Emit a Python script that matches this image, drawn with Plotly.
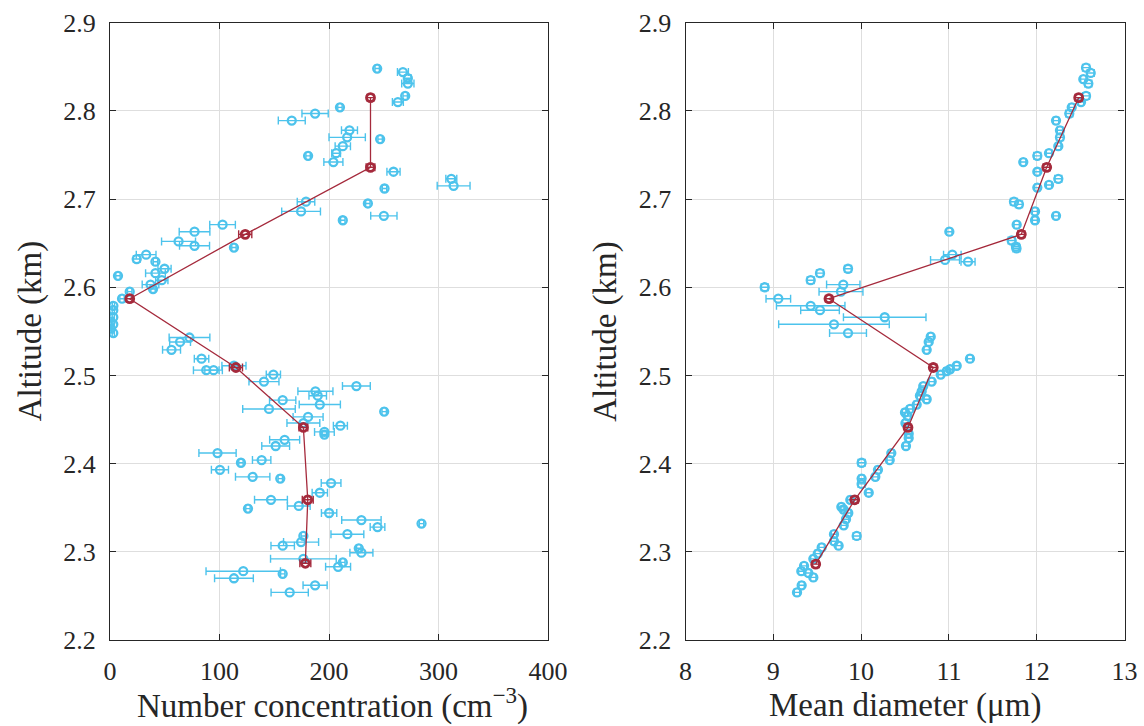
import plotly.graph_objects as go

# ---------------- Left panel: number concentration ----------------
nc_alt = [2.848, 2.844, 2.837, 2.831, 2.817, 2.810, 2.804, 2.797, 2.789, 2.778,
          2.770, 2.768, 2.760, 2.752, 2.749, 2.742, 2.731, 2.723, 2.715, 2.712,
          2.697, 2.695, 2.686, 2.681, 2.676, 2.671, 2.663, 2.652, 2.647, 2.645,
          2.637, 2.632, 2.629, 2.621, 2.616, 2.613, 2.608, 2.603, 2.598, 2.595,
          2.587, 2.579, 2.574, 2.566, 2.561, 2.558, 2.553, 2.548, 2.543, 2.538,
          2.529, 2.519, 2.506, 2.506, 2.511, 2.501, 2.493, 2.488, 2.482, 2.477,
          2.472, 2.467, 2.462, 2.459, 2.453, 2.446, 2.443, 2.436, 2.433, 2.427,
          2.420, 2.412, 2.404, 2.401, 2.393, 2.385, 2.383, 2.378, 2.367, 2.359,
          2.352, 2.349, 2.344, 2.336, 2.332, 2.328, 2.320, 2.318, 2.311, 2.307,
          2.304, 2.299, 2.292, 2.288, 2.283, 2.278, 2.275, 2.270, 2.262, 2.254]
nc_val = [244, 267.5, 272, 272, 269.6, 262.9, 210, 187.3, 166, 218.7,
          216.6, 246.7, 212.6, 206.5, 180.9, 204, 258.9, 311.7, 313.8, 250.7,
          179, 235.5, 174.5, 250.1, 212.6, 102.8, 77.2, 62.6, 77.2, 113.2,
          33, 24.4, 41.5, 49.8, 41.5, 7.3, 47.3, 37, 39.3, 18,
          11, 3.1, 3, 3, 0.6, 3, 0.6, 3, 72.6, 64,
          56.2, 83.6, 87.9, 94.6, 113.2, 149.2, 140.6, 225, 187.6, 189.7,
          157.7, 191.6, 145.2, 250.4, 180.9, 176.6, 210.4, 195.8, 195.8, 159.5,
          151.3, 98.2, 138.5, 119.6, 100.4, 130.3, 155.5, 201.9, 191.6, 147,
          172.4, 126, 200.1, 229.6, 284.5, 244.3, 216.8, 176.6, 174.5, 157.7,
          227.2, 229.6, 176.6, 212.6, 208.3, 121.7, 157.7, 113.2, 187.3, 164.1]
nc_err = [2, 5, 3, 5.6, 2, 5, 2, 12, 12.3, 7.3,
          16.6, 2, 7, 4, 2, 8.7, 6, 5, 15, 2,
          8, 2, 17.7, 12, 2, 11.7, 14, 15.5, 13.7, 2,
          9, 3, 2, 6, 9, 2, 5.6, 7.6, 2, 2,
          2, 1, 1, 1, 1, 1, 1, 1, 18.6, 9.5,
          8.2, 6.6, 11.7, 8, 11, 6.5, 13.7, 12.7, 16, 8,
          12, 18.8, 24, 2, 13.7, 15, 6.4, 9, 2, 13.7,
          12.7, 17, 8.4, 2, 7.8, 15.7, 2, 9, 7, 15,
          10.4, 2, 7, 18, 2, 6.7, 15, 2, 16, 10.7,
          2, 10.5, 30, 2, 11.4, 34, 2, 17.7, 11, 17]

nc_mean_alt = [2.815, 2.736, 2.660, 2.587, 2.509, 2.441, 2.359, 2.287]
nc_mean_val = [237.9, 237.9, 123.5, 18, 115, 176.6, 180.6, 178.4]
nc_mean_err = [3, 4, 6, 3, 6, 4, 5, 5]

# ---------------- Right panel: mean diameter ----------------
md_alt = [2.849, 2.843, 2.836, 2.831, 2.817, 2.810, 2.804, 2.797, 2.789, 2.778,
          2.770, 2.760, 2.752, 2.749, 2.742, 2.731, 2.723, 2.716, 2.713, 2.697,
          2.694, 2.686, 2.681, 2.676, 2.671, 2.663, 2.653, 2.646, 2.644, 2.637,
          2.631, 2.629, 2.621, 2.616, 2.608, 2.603, 2.600, 2.595, 2.587, 2.579,
          2.574, 2.566, 2.558, 2.548, 2.544, 2.538, 2.529, 2.519, 2.511, 2.507,
          2.505, 2.501, 2.493, 2.488, 2.482, 2.477, 2.473, 2.467, 2.462, 2.458,
          2.454, 2.446, 2.434, 2.429, 2.420, 2.412, 2.404, 2.401, 2.393, 2.385,
          2.383, 2.377, 2.367, 2.359, 2.351, 2.348, 2.344, 2.337, 2.330, 2.320,
          2.318, 2.312, 2.307, 2.305, 2.298, 2.292, 2.284, 2.278, 2.276, 2.271,
          2.262, 2.254]
md_val = [12.562, 12.615, 12.531, 12.588, 12.562, 12.505, 12.399, 12.371, 12.220, 12.265,
          12.265, 12.246, 12.140, 12.007, 11.847, 12.007, 12.246, 12.140, 12.007, 11.741,
          11.798, 11.981, 12.220, 11.981, 11.772, 11.005, 11.715, 11.764, 11.770, 11.039,
          10.956, 11.218, 9.851, 9.532, 9.426, 9.797, 8.902, 9.771, 9.057, 9.426,
          9.532, 10.269, 9.691, 9.851, 10.793, 10.770, 10.747, 11.240, 11.089, 11.013,
          10.975, 10.907, 10.804, 10.708, 10.690, 10.670, 10.747, 10.633, 10.557, 10.500,
          10.530, 10.505, 10.542, 10.542, 10.511, 10.344, 10.326, 10.006, 10.192, 10.162,
          10.006, 10.006, 10.087, 9.877, 9.775, 9.800, 9.854, 9.828, 9.802, 9.691,
          9.950, 9.691, 9.744, 9.551, 9.506, 9.456, 9.350, 9.319, 9.399, 9.456,
          9.323, 9.270]
md_err = [0.04, 0.04, 0.03, 0.04, 0.04, 0.03, 0.03, 0.04, 0.03, 0.03,
          0.04, 0.03, 0.03, 0.04, 0.03, 0.03, 0.04, 0.03, 0.03, 0.04,
          0.04, 0.03, 0.03, 0.03, 0.03, 0.03, 0.04, 0.04, 0.04, 0.10,
          0.165, 0.08, 0.04, 0.04, 0.04, 0.19, 0.04, 0.25, 0.14, 0.39,
          0.22, 0.47, 0.63, 0.21, 0.03, 0.03, 0.03, 0.03, 0.03, 0.03,
          0.03, 0.03, 0.03, 0.03, 0.03, 0.03, 0.03, 0.03, 0.03, 0.03,
          0.03, 0.03, 0.03, 0.03, 0.03, 0.03, 0.03, 0.04, 0.03, 0.03,
          0.03, 0.04, 0.03, 0.03, 0.03, 0.03, 0.03, 0.03, 0.03, 0.03,
          0.04, 0.03, 0.03, 0.03, 0.03, 0.03, 0.03, 0.03, 0.03, 0.03,
          0.03, 0.03]

md_mean_alt = [2.815, 2.736, 2.660, 2.587, 2.509, 2.441, 2.359, 2.286]
md_mean_val = [12.478, 12.114, 11.825, 9.634, 10.822, 10.534, 9.927, 9.483]
md_mean_err = [0.04, 0.04, 0.04, 0.04, 0.04, 0.04, 0.04, 0.04]

y_ticks = [2.2, 2.3, 2.4, 2.5, 2.6, 2.7, 2.8, 2.9]
nc_ticks = [0, 100, 200, 300, 400]
md_ticks = [8, 9, 10, 11, 12, 13]

BLUE = "#4dc3ec"
RED = "#a52a3c"
FONT = "Liberation Serif"

W, H = 1144, 726
L1, R1 = 110, 548
L2, R2 = 685.5, 1124.5
TOP, BOT = 22.7, 640

fig = go.Figure()


def add_panel(xs, ys, errs, mx, my, merr, xa, ya):
    fig.add_trace(go.Scatter(
        x=xs, y=ys, mode="markers", xaxis=xa, yaxis=ya,
        marker=dict(symbol="circle-open", size=8, color=BLUE, line=dict(width=2.3, color=BLUE)),
        error_x=dict(type="data", array=errs, visible=True, color=BLUE, thickness=1.4, width=4),
        showlegend=False, hoverinfo="x+y"))
    fig.add_trace(go.Scatter(
        x=mx, y=my, mode="lines+markers", xaxis=xa, yaxis=ya,
        line=dict(color=RED, width=1.3),
        marker=dict(symbol="circle-open", size=8, color=RED, line=dict(width=2.8, color=RED)),
        error_x=dict(type="data", array=merr, visible=True, color=RED, thickness=1.4, width=4),
        showlegend=False, hoverinfo="x+y"))


add_panel(nc_val, nc_alt, nc_err, nc_mean_val, nc_mean_alt, nc_mean_err, "x", "y")
add_panel(md_val, md_alt, md_err, md_mean_val, md_mean_alt, md_mean_err, "x2", "y2")

axis_common = dict(
    showline=True, linecolor="#262626", linewidth=1.3, mirror="ticks",
    ticks="inside", ticklen=6, tickwidth=1.3, tickcolor="#262626",
    showgrid=True, gridcolor="#dedede", gridwidth=1, zeroline=False,
    automargin=False,
    tickfont=dict(family=FONT, size=26, color="#262626"),
)

fig.update_layout(
    width=W, height=H,
    margin=dict(l=0, r=0, t=0, b=0, pad=0, autoexpand=False),
    paper_bgcolor="white", plot_bgcolor="white",
    xaxis=dict(domain=[L1 / W, R1 / W], range=[0, 400], tickvals=nc_ticks,
               anchor="y", ticklabelstandoff=8, **axis_common),
    yaxis=dict(domain=[1 - BOT / H, 1 - TOP / H], range=[2.2, 2.9], tickvals=y_ticks,
               tickformat=".1f", anchor="x", ticklabelstandoff=8, **axis_common),
    xaxis2=dict(domain=[L2 / W, R2 / W], range=[8, 13], tickvals=md_ticks,
                anchor="y2", ticklabelstandoff=8, **axis_common),
    yaxis2=dict(domain=[1 - BOT / H, 1 - TOP / H], range=[2.2, 2.9], tickvals=y_ticks,
                tickformat=".1f", anchor="x2", ticklabelstandoff=8, **axis_common),
)

title_font = dict(family=FONT, size=33, color="#262626")
ann = [
    dict(text="Number concentration (cm<sup>\u22123</sup>)", x=(L1 + R1) / 2 / W + 0.003, y=1 - 703 / H),
    dict(text="Mean diameter (\u03bcm)", x=(L2 + R2) / 2 / W, y=1 - 705 / H),
    dict(text="Altitude (km)", x=30 / W, y=1 - (TOP + BOT) / 2 / H, textangle=-90),
    dict(text="Altitude (km)", x=(L2 - 80) / W, y=1 - (TOP + BOT) / 2 / H, textangle=-90),
]
for a in ann:
    fig.add_annotation(xref="paper", yref="paper", xanchor="center", yanchor="middle",
                       showarrow=False, font=title_font, **a)

fig.write_html("out.html")
